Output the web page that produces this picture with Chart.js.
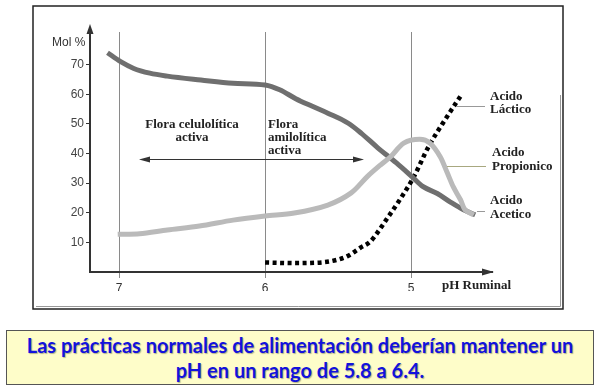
<!DOCTYPE html>
<html>
<head>
<meta charset="utf-8">
<script src="https://cdn.jsdelivr.net/npm/chart.js@4.4.1/dist/chart.umd.min.js"></script>
<style>
  html, body { margin: 0; padding: 0; background: #fff; }
  #wrap { position: relative; width: 600px; height: 391px; overflow: hidden; }
  #note {
    position: absolute; left: 6px; top: 330px; width: 588px; height: 55px;
    background: #fefdc9; border: 1px solid #555; box-sizing: border-box;
    font-family: Lato, "Open Sans", sans-serif; font-weight: bold; font-size: 20px;
    line-height: 25px; color: #1212dc; text-align: center; padding-top: 2px;
    text-shadow: 1px 1px 1px rgba(0,0,0,0.3);
  }
</style>
</head>
<body>
<div id="wrap">
  <canvas id="ph-chart" width="600" height="391"></canvas>
  <div id="note">Las prácticas normales de alimentación deberían mantener un<br>pH en un rango de 5.8 a 6.4.</div>
</div>
<script>
// values (x = pH ruminal, y = Mol %)
const xTicks = [7, 6, 5];
const yTicks = [10, 20, 30, 40, 50, 60, 70];

const phAcetic = [7.08, 6.99, 6.9, 6.79, 6.67, 6.44, 6.22, 6.0, 5.9, 5.79, 5.68, 5.57, 5.43, 5.34, 5.23, 5.1, 4.99, 4.92, 4.82, 4.73, 4.64, 4.56];
const acetic = [74, 71, 68.7, 67.1, 66.1, 64.8, 63.7, 63.1, 61.5, 58.5, 56, 53.6, 50.2, 46.8, 42, 36.8, 32, 28.9, 26.5, 23.6, 21, 19.3];

const phPropionic = [7.01, 6.86, 6.67, 6.45, 6.22, 6.0, 5.8, 5.57, 5.41, 5.3, 5.21, 5.14, 5.05, 4.94, 4.87, 4.8, 4.75, 4.71, 4.66, 4.63, 4.57];
const propionic = [12.7, 12.9, 14.2, 15.5, 17.5, 18.9, 19.9, 22.6, 26.7, 32.2, 36.1, 38.9, 43.5, 44.8, 43.5, 38.9, 33.3, 28.7, 24.3, 21, 19.3];

const phLactic = [6.0, 5.8, 5.6, 5.5, 5.43, 5.35, 5.28, 5.23, 5.17, 5.07, 4.98, 4.88, 4.76, 4.66];
const lactic = [3.2, 3.0, 3.3, 4.2, 5.5, 8.1, 10.2, 13.3, 17.6, 24.9, 32.2, 42.3, 51.9, 59.4];

const toPoints = (xs, ys) => xs.map((x, i) => ({ x: x, y: ys[i] }));

const serif = 'bold 13px "Liberation Serif", "DejaVu Serif", serif';

function arrowHead(ctx, x, y, dir, len, half) {
  ctx.beginPath();
  if (dir === 'up') {
    ctx.moveTo(x, y); ctx.lineTo(x - half, y + len); ctx.lineTo(x + half, y + len);
  } else if (dir === 'right') {
    ctx.moveTo(x, y); ctx.lineTo(x - len, y - half); ctx.lineTo(x - len, y + half);
  } else {
    ctx.moveTo(x, y); ctx.lineTo(x + len, y - half); ctx.lineTo(x + len, y + half);
  }
  ctx.closePath();
  ctx.fill();
}

const decorations = {
  id: 'decorations',
  afterDraw(chart) {
    const ctx = chart.ctx;
    const area = chart.chartArea;
    ctx.save();

    // outer frame
    ctx.strokeStyle = '#222';
    ctx.lineWidth = 1.5;
    ctx.strokeRect(33, 6, 530, 303);
    ctx.strokeStyle = '#999';
    ctx.lineWidth = 1;
    ctx.beginPath();
    ctx.moveTo(560.5, 95); ctx.lineTo(560.5, 306.5); ctx.lineTo(36, 306.5);
    ctx.stroke();

    // axis arrows
    ctx.fillStyle = '#333';
    ctx.strokeStyle = '#333';
    ctx.lineWidth = 2;
    ctx.beginPath();
    ctx.moveTo(area.left, area.top); ctx.lineTo(area.left, 28);
    ctx.stroke();
    arrowHead(ctx, area.left, 24, 'up', 10, 3.5);
    arrowHead(ctx, area.right + 2, area.bottom, 'right', 12, 3.5);

    // axis titles
    ctx.fillStyle = '#333';
    ctx.font = '12px "Liberation Sans", Arial, sans-serif';
    ctx.textAlign = 'left';
    ctx.textBaseline = 'middle';
    ctx.fillText('Mol %', 52, 43);
    ctx.fillStyle = '#222';
    ctx.font = 'bold 13px "Liberation Serif", "DejaVu Serif", serif';
    ctx.fillText('pH Ruminal', 442, 286);

    // flora texts
    ctx.font = serif;
    ctx.textAlign = 'center';
    ctx.fillText('Flora celulolítica', 192, 125);
    ctx.fillText('activa', 192, 138);
    ctx.textAlign = 'left';
    ctx.fillText('Flora', 268, 125);
    ctx.fillText('amilolítica', 268, 138);
    ctx.fillText('activa', 268, 151);

    // double arrow
    ctx.strokeStyle = '#333';
    ctx.fillStyle = '#333';
    ctx.lineWidth = 1.2;
    ctx.beginPath();
    ctx.moveTo(142, 159.5); ctx.lineTo(360, 159.5);
    ctx.stroke();
    arrowHead(ctx, 139, 159.5, 'left', 11, 3);
    arrowHead(ctx, 364, 159.5, 'right', 11, 3);

    // series labels with leader lines
    ctx.lineWidth = 1;
    ctx.strokeStyle = '#999';
    ctx.beginPath();
    ctx.moveTo(457, 106.5); ctx.lineTo(485, 106.5);
    ctx.moveTo(477, 211.5); ctx.lineTo(485, 211.5);
    ctx.stroke();
    ctx.strokeStyle = '#a8a880';
    ctx.beginPath();
    ctx.moveTo(447, 166.5); ctx.lineTo(486, 166.5);
    ctx.stroke();

    ctx.fillStyle = '#222';
    ctx.font = serif;
    ctx.fillText('Acido', 490, 97);
    ctx.fillText('Láctico', 490, 110);
    ctx.fillText('Acido', 492, 153);
    ctx.fillText('Propionico', 492, 167);
    ctx.fillText('Acido', 490, 201);
    ctx.fillText('Acetico', 490, 215);

    ctx.restore();
  }
};

new Chart(document.getElementById('ph-chart'), {
  type: 'line',
  data: {
    datasets: [
      {
        label: 'Acido Propionico',
        data: toPoints(phPropionic, propionic),
        borderColor: '#bababa',
        borderWidth: 5,
        pointRadius: 0,
        tension: 0.3,
      },
      {
        label: 'Acido Acetico',
        data: toPoints(phAcetic, acetic),
        borderColor: '#6f6f6f',
        borderWidth: 5,
        pointRadius: 0,
        cubicInterpolationMode: 'monotone',
      },
      {
        label: 'Acido Láctico',
        data: toPoints(phLactic, lactic),
        borderColor: '#000',
        borderWidth: 4.5,
        borderDash: [4, 3.5],
        borderCapStyle: 'butt',
        pointRadius: 0,
        cubicInterpolationMode: 'monotone',
      },
    ],
  },
  options: {
    responsive: false,
    animation: false,
    layout: { padding: { left: 30, right: 108, top: 32, bottom: 100 } },
    plugins: { legend: { display: false }, tooltip: { enabled: false } },
    scales: {
      x: {
        type: 'linear',
        reverse: true,
        min: 4.445,
        max: 7.2,
        afterBuildTicks: (scale) => { scale.ticks = xTicks.map((v) => ({ value: v })); },
        afterFit: (scale) => { scale.height = 19; },
        ticks: {
          color: '#333',
          padding: 3,
          font: { family: '"Liberation Sans", Arial, sans-serif', size: 12 },
        },
        grid: { color: '#8a8a8a', lineWidth: 1, tickLength: 6, drawOnChartArea: true },
        border: { color: '#333', width: 2 },
      },
      y: {
        min: 0,
        max: 81,
        afterBuildTicks: (scale) => { scale.ticks = yTicks.map((v) => ({ value: v })); },
        afterFit: (scale) => { scale.width = 60; },
        ticks: {
          color: '#444',
          padding: 2,
          font: { family: '"Liberation Sans", Arial, sans-serif', size: 12 },
        },
        grid: { drawOnChartArea: false, color: '#333', tickLength: 4 },
        border: { color: '#333', width: 2 },
      },
    },
  },
  plugins: [decorations],
});
</script>
</body>
</html>
